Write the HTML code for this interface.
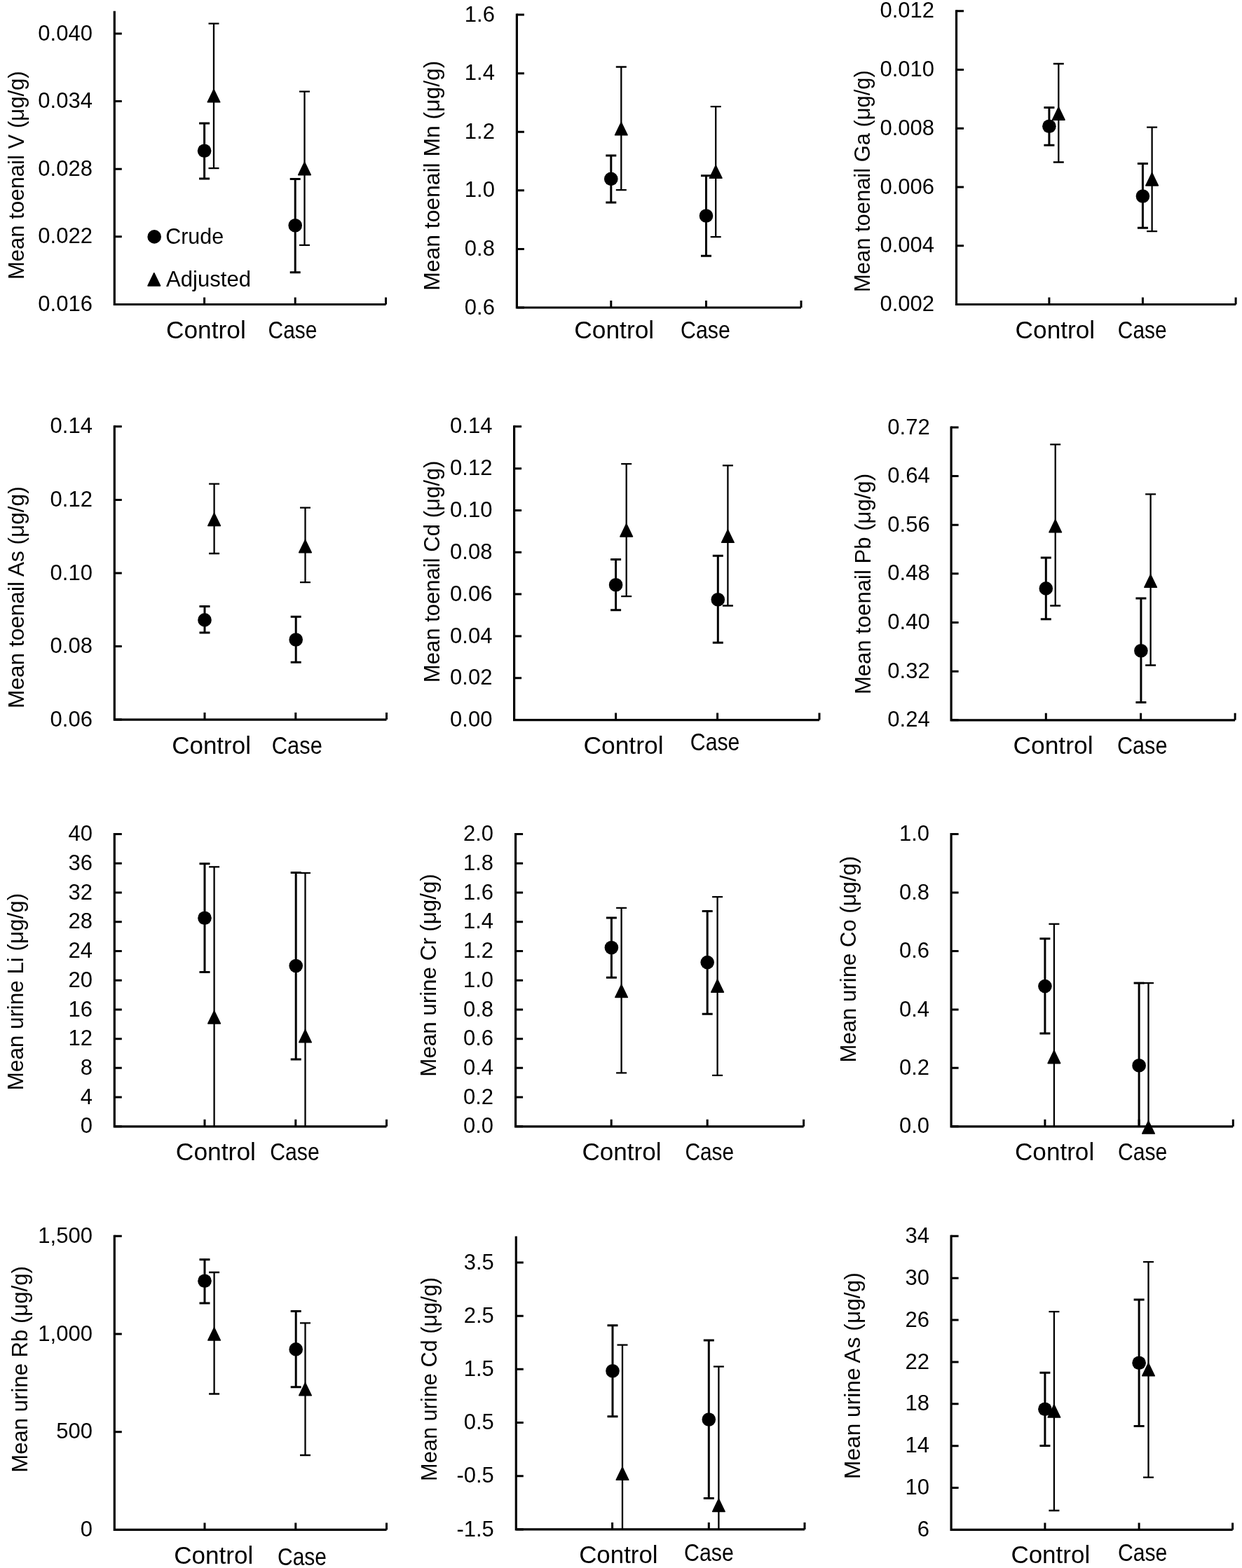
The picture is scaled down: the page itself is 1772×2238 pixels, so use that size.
<!DOCTYPE html>
<html><head><meta charset="utf-8"><title>Figure</title>
<style>
html,body{margin:0;padding:0;background:#fff;}
svg{display:block;}
text{font-family:'Liberation Sans', sans-serif;fill:#000;}
.yl{font-size:31.0px;text-anchor:end;}
.cl{font-size:34.4px;}
.ti{font-size:31.5px;text-anchor:middle;}
.lg{font-size:31.5px;}
.ax{fill:none;stroke:#000;stroke-width:3.2;stroke-linecap:butt;stroke-linejoin:miter;}
.tk{fill:none;stroke:#000;stroke-width:3.0;}
.ec{fill:none;stroke:#000;stroke-width:3.0;}
.ea{fill:none;stroke:#000;stroke-width:2.3;}
.tr{fill:#000;stroke:#000;stroke-width:1.5;stroke-linejoin:round;}
</style></head>
<body>
<svg width="1772" height="2238" viewBox="0 0 1772 2238">
<rect width="1772" height="2238" fill="#fff"/>
<path d="M163.3 15.8V434.5H550.5" class="ax"/>
<path d="M163.3 48h10.5M163.3 144.6h10.5M163.3 241.2h10.5M163.3 337.8h10.5M163.3 434.4h10.5M291.6 434.5v-10M421.2 434.5v-10M550.5 434.5v-10" class="tk"/>
<text transform="translate(131.9 57.6) scale(1 1)" class="yl">0.040</text>
<text transform="translate(131.9 154.2) scale(1 1)" class="yl">0.034</text>
<text transform="translate(131.9 250.8) scale(1 1)" class="yl">0.028</text>
<text transform="translate(131.9 347.4) scale(1 1)" class="yl">0.022</text>
<text transform="translate(131.9 444) scale(1 1)" class="yl">0.016</text>
<path d="M291.6 175.9V254.9" class="ec"/>
<path d="M284.1 175.9h15M284.1 254.9h15" class="ec"/>
<circle cx="291.6" cy="215.2" r="9.8"/>
<path d="M305 33.6V240.1" class="ea"/>
<path d="M297.5 33.6h15M297.5 240.1h15" class="ea"/>
<path d="M305 127.6L313.8 145.8H296.2Z" class="tr"/>
<path d="M421.2 255.4V388.8" class="ec"/>
<path d="M413.7 255.4h15M413.7 388.8h15" class="ec"/>
<circle cx="421.2" cy="321.7" r="9.8"/>
<path d="M434.5 130.7V349.8" class="ea"/>
<path d="M427 130.7h15M427 349.8h15" class="ea"/>
<path d="M434.5 231.45L443.3 249.65H425.7Z" class="tr"/>
<text x="237" y="483" class="cl" textLength="113.8" lengthAdjust="spacingAndGlyphs">Control</text>
<text x="382.6" y="483" class="cl" textLength="69.8" lengthAdjust="spacingAndGlyphs">Case</text>
<text transform="translate(33.6 250.2) rotate(-90)" class="ti" textLength="297.8" lengthAdjust="spacingAndGlyphs">Mean toenail V (μg/g)</text>
<circle cx="220.2" cy="337.9" r="9.8"/>
<text x="236.2" y="348.0" class="lg" textLength="83" lengthAdjust="spacingAndGlyphs">Crude</text>
<path d="M219.8 389.7L228.6 407.9H211Z" class="tr"/>
<text x="237.0" y="408.6" class="lg" textLength="121" lengthAdjust="spacingAndGlyphs">Adjusted</text>
<path d="M737.4 19.6V439H1143" class="ax"/>
<path d="M737.4 21.1h10.5M737.4 104.68h10.5M737.4 188.26h10.5M737.4 271.84h10.5M737.4 355.42h10.5M737.4 439h10.5M871.8 439v-10M1007.5 439v-10M1143 439v-10" class="tk"/>
<text transform="translate(705.9 30.7) scale(1 1)" class="yl">1.6</text>
<text transform="translate(705.9 114.28) scale(1 1)" class="yl">1.4</text>
<text transform="translate(705.9 197.86) scale(1 1)" class="yl">1.2</text>
<text transform="translate(705.9 281.44) scale(1 1)" class="yl">1.0</text>
<text transform="translate(705.9 365.02) scale(1 1)" class="yl">0.8</text>
<text transform="translate(705.9 448.6) scale(1 1)" class="yl">0.6</text>
<path d="M871.8 222V289" class="ec"/>
<path d="M864.3 222h15M864.3 289h15" class="ec"/>
<circle cx="871.8" cy="255.4" r="9.8"/>
<path d="M886.3 95.5V271.2" class="ea"/>
<path d="M878.8 95.5h15M878.8 271.2h15" class="ea"/>
<path d="M886.3 174.55L895.1 192.75H877.5Z" class="tr"/>
<path d="M1007.5 250.8V365.3" class="ec"/>
<path d="M1000 250.8h15M1000 365.3h15" class="ec"/>
<circle cx="1007.5" cy="308" r="9.8"/>
<path d="M1021.2 152.1V338.2" class="ea"/>
<path d="M1013.7 152.1h15M1013.7 338.2h15" class="ea"/>
<path d="M1021.2 236L1030 254.2H1012.4Z" class="tr"/>
<text x="819.2" y="483" class="cl" textLength="114" lengthAdjust="spacingAndGlyphs">Control</text>
<text x="971" y="483" class="cl" textLength="70.8" lengthAdjust="spacingAndGlyphs">Case</text>
<text transform="translate(626.8 250.65) rotate(-90)" class="ti" textLength="328.1" lengthAdjust="spacingAndGlyphs">Mean toenail Mn (μg/g)</text>
<path d="M1364.5 14.3V434.5H1763.1" class="ax"/>
<path d="M1364.5 15.8h10.5M1364.5 99.54h10.5M1364.5 183.28h10.5M1364.5 267.02h10.5M1364.5 350.76h10.5M1364.5 434.5h10.5M1496.9 434.5v-10M1630.4 434.5v-10M1763.1 434.5v-10" class="tk"/>
<text transform="translate(1333 25.4) scale(1 1)" class="yl">0.012</text>
<text transform="translate(1333 109.14) scale(1 1)" class="yl">0.010</text>
<text transform="translate(1333 192.88) scale(1 1)" class="yl">0.008</text>
<text transform="translate(1333 276.62) scale(1 1)" class="yl">0.006</text>
<text transform="translate(1333 360.36) scale(1 1)" class="yl">0.004</text>
<text transform="translate(1333 444.1) scale(1 1)" class="yl">0.002</text>
<path d="M1496.9 153.5V207.2" class="ec"/>
<path d="M1489.4 153.5h15M1489.4 207.2h15" class="ec"/>
<circle cx="1496.9" cy="180.2" r="9.8"/>
<path d="M1510.3 91V231.5" class="ea"/>
<path d="M1502.8 91h15M1502.8 231.5h15" class="ea"/>
<path d="M1510.3 152.95L1519.1 171.15H1501.5Z" class="tr"/>
<path d="M1630.4 233.6V325.3" class="ec"/>
<path d="M1622.9 233.6h15M1622.9 325.3h15" class="ec"/>
<circle cx="1630.4" cy="280" r="9.8"/>
<path d="M1643.6 181.6V330.2" class="ea"/>
<path d="M1636.1 181.6h15M1636.1 330.2h15" class="ea"/>
<path d="M1643.6 246.7L1652.4 264.9H1634.8Z" class="tr"/>
<text x="1448.6" y="483" class="cl" textLength="113.6" lengthAdjust="spacingAndGlyphs">Control</text>
<text x="1594.8" y="483" class="cl" textLength="69.8" lengthAdjust="spacingAndGlyphs">Case</text>
<text transform="translate(1241.4 258.55) rotate(-90)" class="ti" textLength="316.7" lengthAdjust="spacingAndGlyphs">Mean toenail Ga (μg/g)</text>
<path d="M163.3 607.3V1027.1H551.5" class="ax"/>
<path d="M163.3 608.8h10.5M163.3 713.38h10.5M163.3 817.95h10.5M163.3 922.52h10.5M163.3 1027.1h10.5M292 1027.1v-10M421.8 1027.1v-10M551.5 1027.1v-10" class="tk"/>
<text transform="translate(131.9 618.4) scale(1 1)" class="yl">0.14</text>
<text transform="translate(131.9 722.98) scale(1 1)" class="yl">0.12</text>
<text transform="translate(131.9 827.55) scale(1 1)" class="yl">0.10</text>
<text transform="translate(131.9 932.12) scale(1 1)" class="yl">0.08</text>
<text transform="translate(131.9 1036.7) scale(1 1)" class="yl">0.06</text>
<path d="M292 865.6V903.1" class="ec"/>
<path d="M284.5 865.6h15M284.5 903.1h15" class="ec"/>
<circle cx="292" cy="884.9" r="9.8"/>
<path d="M305.6 690.6V790" class="ea"/>
<path d="M298.1 690.6h15M298.1 790h15" class="ea"/>
<path d="M305.6 732.25L314.4 750.45H296.8Z" class="tr"/>
<path d="M422.2 880.3V945.3" class="ec"/>
<path d="M414.7 880.3h15M414.7 945.3h15" class="ec"/>
<circle cx="422.2" cy="913" r="9.8"/>
<path d="M435.5 724.7V831.1" class="ea"/>
<path d="M428 724.7h15M428 831.1h15" class="ea"/>
<path d="M435.5 770.5L444.3 788.7H426.7Z" class="tr"/>
<text x="245.2" y="1075.6" class="cl" textLength="112.8" lengthAdjust="spacingAndGlyphs">Control</text>
<text x="387.8" y="1075.6" class="cl" textLength="72" lengthAdjust="spacingAndGlyphs">Case</text>
<text transform="translate(33.9 852.6) rotate(-90)" class="ti" textLength="316.6" lengthAdjust="spacingAndGlyphs">Mean toenail As (μg/g)</text>
<path d="M733.6 607.3V1027.6H1169" class="ax"/>
<path d="M733.6 608.8h10.5M733.6 668.63h10.5M733.6 728.46h10.5M733.6 788.29h10.5M733.6 848.11h10.5M733.6 907.94h10.5M733.6 967.77h10.5M733.6 1027.6h10.5M878.6 1027.6v-10M1023.6 1027.6v-10M1169 1027.6v-10" class="tk"/>
<text transform="translate(702.4 618.4) scale(1 1)" class="yl">0.14</text>
<text transform="translate(702.4 678.23) scale(1 1)" class="yl">0.12</text>
<text transform="translate(702.4 738.06) scale(1 1)" class="yl">0.10</text>
<text transform="translate(702.4 797.89) scale(1 1)" class="yl">0.08</text>
<text transform="translate(702.4 857.71) scale(1 1)" class="yl">0.06</text>
<text transform="translate(702.4 917.54) scale(1 1)" class="yl">0.04</text>
<text transform="translate(702.4 977.37) scale(1 1)" class="yl">0.02</text>
<text transform="translate(702.4 1037.2) scale(1 1)" class="yl">0.00</text>
<path d="M878.6 798.5V870.8" class="ec"/>
<path d="M871.1 798.5h15M871.1 870.8h15" class="ec"/>
<circle cx="878.6" cy="834.7" r="9.8"/>
<path d="M893.7 662.2V851.2" class="ea"/>
<path d="M886.2 662.2h15M886.2 851.2h15" class="ea"/>
<path d="M893.7 747.7L902.5 765.9H884.9Z" class="tr"/>
<path d="M1024.3 793.2V917.2" class="ec"/>
<path d="M1016.8 793.2h15M1016.8 917.2h15" class="ec"/>
<circle cx="1024.3" cy="855.7" r="9.8"/>
<path d="M1038.4 664.3V864.5" class="ea"/>
<path d="M1030.9 664.3h15M1030.9 864.5h15" class="ea"/>
<path d="M1038.4 756.15L1047.2 774.35H1029.6Z" class="tr"/>
<text x="832.4" y="1075.6" class="cl" textLength="114.2" lengthAdjust="spacingAndGlyphs">Control</text>
<text x="984.8" y="1071.4" class="cl" textLength="70.6" lengthAdjust="spacingAndGlyphs">Case</text>
<text transform="translate(626.6 815.9) rotate(-90)" class="ti" textLength="316.6" lengthAdjust="spacingAndGlyphs">Mean toenail Cd (μg/g)</text>
<path d="M1357.1 608.4V1027.8H1762.1" class="ax"/>
<path d="M1357.1 609.9h10.5M1357.1 679.55h10.5M1357.1 749.2h10.5M1357.1 818.85h10.5M1357.1 888.5h10.5M1357.1 958.15h10.5M1357.1 1027.8h10.5M1492.3 1027.8v-10M1627.6 1027.8v-10M1762.1 1027.8v-10" class="tk"/>
<text transform="translate(1326.7 619.5) scale(1 1)" class="yl">0.72</text>
<text transform="translate(1326.7 689.15) scale(1 1)" class="yl">0.64</text>
<text transform="translate(1326.7 758.8) scale(1 1)" class="yl">0.56</text>
<text transform="translate(1326.7 828.45) scale(1 1)" class="yl">0.48</text>
<text transform="translate(1326.7 898.1) scale(1 1)" class="yl">0.40</text>
<text transform="translate(1326.7 967.75) scale(1 1)" class="yl">0.32</text>
<text transform="translate(1326.7 1037.4) scale(1 1)" class="yl">0.24</text>
<path d="M1492.3 796V883.8" class="ec"/>
<path d="M1484.8 796h15M1484.8 883.8h15" class="ec"/>
<circle cx="1492.3" cy="839.9" r="9.8"/>
<path d="M1505.7 634.4V864.5" class="ea"/>
<path d="M1498.2 634.4h15M1498.2 864.5h15" class="ea"/>
<path d="M1505.7 741.55L1514.5 759.75H1496.9Z" class="tr"/>
<path d="M1627.9 854V1002.5" class="ec"/>
<path d="M1620.4 854h15M1620.4 1002.5h15" class="ec"/>
<circle cx="1627.9" cy="928.8" r="9.8"/>
<path d="M1641.6 705.4V949.5" class="ea"/>
<path d="M1634.1 705.4h15M1634.1 949.5h15" class="ea"/>
<path d="M1641.6 820.05L1650.4 838.25H1632.8Z" class="tr"/>
<text x="1445.4" y="1075.6" class="cl" textLength="114.2" lengthAdjust="spacingAndGlyphs">Control</text>
<text x="1594" y="1075.6" class="cl" textLength="71.4" lengthAdjust="spacingAndGlyphs">Case</text>
<text transform="translate(1241.9 833.55) rotate(-90)" class="ti" textLength="315.1" lengthAdjust="spacingAndGlyphs">Mean toenail Pb (μg/g)</text>
<path d="M163.3 1189.1V1607.8H551.5" class="ax"/>
<path d="M163.3 1190.6h10.5M163.3 1232.32h10.5M163.3 1274.04h10.5M163.3 1315.76h10.5M163.3 1357.48h10.5M163.3 1399.2h10.5M163.3 1440.92h10.5M163.3 1482.64h10.5M163.3 1524.36h10.5M163.3 1566.08h10.5M163.3 1607.8h10.5M292 1607.8v-10M421.8 1607.8v-10M551.5 1607.8v-10" class="tk"/>
<text transform="translate(131.9 1200.2) scale(1 1)" class="yl">40</text>
<text transform="translate(131.9 1241.92) scale(1 1)" class="yl">36</text>
<text transform="translate(131.9 1283.64) scale(1 1)" class="yl">32</text>
<text transform="translate(131.9 1325.36) scale(1 1)" class="yl">28</text>
<text transform="translate(131.9 1367.08) scale(1 1)" class="yl">24</text>
<text transform="translate(131.9 1408.8) scale(1 1)" class="yl">20</text>
<text transform="translate(131.9 1450.52) scale(1 1)" class="yl">16</text>
<text transform="translate(131.9 1492.24) scale(1 1)" class="yl">12</text>
<text transform="translate(131.9 1533.96) scale(1 1)" class="yl">8</text>
<text transform="translate(131.9 1575.68) scale(1 1)" class="yl">4</text>
<text transform="translate(131.9 1617.4) scale(1 1)" class="yl">0</text>
<path d="M292 1232.7V1387.6" class="ec"/>
<path d="M284.5 1232.7h15M284.5 1387.6h15" class="ec"/>
<circle cx="292" cy="1310.3" r="9.8"/>
<path d="M305.6 1237.3V1607.8" class="ea"/>
<path d="M298.1 1237.3h15" class="ea"/>
<path d="M305.6 1442.75L314.4 1460.95H296.8Z" class="tr"/>
<path d="M422.2 1245.4V1512" class="ec"/>
<path d="M414.7 1245.4h15M414.7 1512h15" class="ec"/>
<circle cx="422.2" cy="1378.5" r="9.8"/>
<path d="M435.5 1246V1607.8" class="ea"/>
<path d="M428 1246h15" class="ea"/>
<path d="M435.5 1469.65L444.3 1487.85H426.7Z" class="tr"/>
<text x="250.8" y="1655.6" class="cl" textLength="114.2" lengthAdjust="spacingAndGlyphs">Control</text>
<text x="385.2" y="1655.6" class="cl" textLength="70.6" lengthAdjust="spacingAndGlyphs">Case</text>
<text transform="translate(33.2 1415.55) rotate(-90)" class="ti" textLength="281.3" lengthAdjust="spacingAndGlyphs">Mean urine Li (μg/g)</text>
<path d="M735.6 1189.1V1607.8H1146.6" class="ax"/>
<path d="M735.6 1190.6h10.5M735.6 1232.32h10.5M735.6 1274.04h10.5M735.6 1315.76h10.5M735.6 1357.48h10.5M735.6 1399.2h10.5M735.6 1440.92h10.5M735.6 1482.64h10.5M735.6 1524.36h10.5M735.6 1566.08h10.5M735.6 1607.8h10.5M872.2 1607.8v-10M1009.2 1607.8v-10M1146.6 1607.8v-10" class="tk"/>
<text transform="translate(704.1 1200.2) scale(1 1)" class="yl">2.0</text>
<text transform="translate(704.1 1241.92) scale(1 1)" class="yl">1.8</text>
<text transform="translate(704.1 1283.64) scale(1 1)" class="yl">1.6</text>
<text transform="translate(704.1 1325.36) scale(1 1)" class="yl">1.4</text>
<text transform="translate(704.1 1367.08) scale(1 1)" class="yl">1.2</text>
<text transform="translate(704.1 1408.8) scale(1 1)" class="yl">1.0</text>
<text transform="translate(704.1 1450.52) scale(1 1)" class="yl">0.8</text>
<text transform="translate(704.1 1492.24) scale(1 1)" class="yl">0.6</text>
<text transform="translate(704.1 1533.96) scale(1 1)" class="yl">0.4</text>
<text transform="translate(704.1 1575.68) scale(1 1)" class="yl">0.2</text>
<text transform="translate(704.1 1617.4) scale(1 1)" class="yl">0.0</text>
<path d="M872.4 1310V1395.3" class="ec"/>
<path d="M864.9 1310h15M864.9 1395.3h15" class="ec"/>
<circle cx="872.4" cy="1352.5" r="9.8"/>
<path d="M886.6 1295.9V1531.3" class="ea"/>
<path d="M879.1 1295.9h15M879.1 1531.3h15" class="ea"/>
<path d="M886.6 1405.35L895.4 1423.55H877.8Z" class="tr"/>
<path d="M1009.2 1300.5V1447.3" class="ec"/>
<path d="M1001.7 1300.5h15M1001.7 1447.3h15" class="ec"/>
<circle cx="1009.2" cy="1373.6" r="9.8"/>
<path d="M1023.6 1280.1V1534.8" class="ea"/>
<path d="M1016.1 1280.1h15M1016.1 1534.8h15" class="ea"/>
<path d="M1023.6 1397.95L1032.4 1416.15H1014.8Z" class="tr"/>
<text x="830.4" y="1655.6" class="cl" textLength="113.2" lengthAdjust="spacingAndGlyphs">Control</text>
<text x="977.4" y="1655.6" class="cl" textLength="69.8" lengthAdjust="spacingAndGlyphs">Case</text>
<text transform="translate(622.4 1391.95) rotate(-90)" class="ti" textLength="289.5" lengthAdjust="spacingAndGlyphs">Mean urine Cr (μg/g)</text>
<path d="M1357.1 1189.1V1607.8H1759.3" class="ax"/>
<path d="M1357.1 1190.6h10.5M1357.1 1274.04h10.5M1357.1 1357.48h10.5M1357.1 1440.92h10.5M1357.1 1524.36h10.5M1357.1 1607.8h10.5M1490.9 1607.8v-10M1625.1 1607.8v-10M1759.3 1607.8v-10" class="tk"/>
<text transform="translate(1326 1200.2) scale(1 1)" class="yl">1.0</text>
<text transform="translate(1326 1283.64) scale(1 1)" class="yl">0.8</text>
<text transform="translate(1326 1367.08) scale(1 1)" class="yl">0.6</text>
<text transform="translate(1326 1450.52) scale(1 1)" class="yl">0.4</text>
<text transform="translate(1326 1533.96) scale(1 1)" class="yl">0.2</text>
<text transform="translate(1326 1617.4) scale(1 1)" class="yl">0.0</text>
<path d="M1490.9 1339.8V1475.1" class="ec"/>
<path d="M1483.4 1339.8h15M1483.4 1475.1h15" class="ec"/>
<circle cx="1490.9" cy="1407.6" r="9.8"/>
<path d="M1503.9 1318.8V1607.8" class="ea"/>
<path d="M1496.4 1318.8h15" class="ea"/>
<path d="M1503.9 1499.45L1512.7 1517.65H1495.1Z" class="tr"/>
<path d="M1625.1 1403.1V1607.8" class="ec"/>
<path d="M1617.6 1403.1h15" class="ec"/>
<circle cx="1625.1" cy="1520.7" r="9.8"/>
<path d="M1638.5 1403.1V1607.8" class="ea"/>
<path d="M1631 1403.1h15" class="ea"/>
<path d="M1638.5 1599.9L1647.3 1618.1H1629.7Z" class="tr"/>
<text x="1448" y="1655.6" class="cl" textLength="113.2" lengthAdjust="spacingAndGlyphs">Control</text>
<text x="1595" y="1655.6" class="cl" textLength="70.4" lengthAdjust="spacingAndGlyphs">Case</text>
<text transform="translate(1220.6 1369.1) rotate(-90)" class="ti" textLength="294.6" lengthAdjust="spacingAndGlyphs">Mean urine Co (μg/g)</text>
<path d="M163.3 1762.8V2183.4H551.5" class="ax"/>
<path d="M163.3 1764.3h10.5M163.3 1904h10.5M163.3 2043.7h10.5M163.3 2183.4h10.5M292 2183.4v-10M421.8 2183.4v-10M551.5 2183.4v-10" class="tk"/>
<text transform="translate(131.9 1773.9) scale(1 1)" class="yl">1,500</text>
<text transform="translate(131.9 1913.6) scale(1 1)" class="yl">1,000</text>
<text transform="translate(131.9 2053.3) scale(1 1)" class="yl">500</text>
<text transform="translate(131.9 2193) scale(1 1)" class="yl">0</text>
<path d="M292 1797.7V1859.9" class="ec"/>
<path d="M284.5 1797.7h15M284.5 1859.9h15" class="ec"/>
<circle cx="292" cy="1828.3" r="9.8"/>
<path d="M305.6 1816V1989.5" class="ea"/>
<path d="M298.1 1816h15M298.1 1989.5h15" class="ea"/>
<path d="M305.6 1894.8L314.4 1913H296.8Z" class="tr"/>
<path d="M422.2 1871.5V1979.7" class="ec"/>
<path d="M414.7 1871.5h15M414.7 1979.7h15" class="ec"/>
<circle cx="422.2" cy="1925.9" r="9.8"/>
<path d="M435.5 1888.3V2077" class="ea"/>
<path d="M428 1888.3h15M428 2077h15" class="ea"/>
<path d="M435.5 1973.65L444.3 1991.85H426.7Z" class="tr"/>
<text x="248.2" y="2232" class="cl" textLength="113" lengthAdjust="spacingAndGlyphs">Control</text>
<text x="396" y="2234" class="cl" textLength="70" lengthAdjust="spacingAndGlyphs">Case</text>
<text transform="translate(39.4 1954.4) rotate(-90)" class="ti" textLength="294.6" lengthAdjust="spacingAndGlyphs">Mean urine Rb (μg/g)</text>
<path d="M736.3 1764.6V2182.9H1148" class="ax"/>
<path d="M736.3 1802h10.5M736.3 1878.18h10.5M736.3 1954.36h10.5M736.3 2030.54h10.5M736.3 2106.72h10.5M736.3 2182.9h10.5M873.6 2182.9v-10M1011.3 2182.9v-10M1148 2182.9v-10" class="tk"/>
<text transform="translate(704.8 1811.6) scale(1 1)" class="yl">3.5</text>
<text transform="translate(704.8 1887.78) scale(1 1)" class="yl">2.5</text>
<text transform="translate(704.8 1963.96) scale(1 1)" class="yl">1.5</text>
<text transform="translate(704.8 2040.14) scale(1 1)" class="yl">0.5</text>
<text transform="translate(704.8 2116.32) scale(1 1)" class="yl">-0.5</text>
<text transform="translate(704.8 2192.5) scale(1 1)" class="yl">-1.5</text>
<path d="M874 1891.8V2021.8" class="ec"/>
<path d="M866.5 1891.8h15M866.5 2021.8h15" class="ec"/>
<circle cx="874" cy="1956.8" r="9.8"/>
<path d="M888 1919.6V2182.9" class="ea"/>
<path d="M880.5 1919.6h15" class="ea"/>
<path d="M888 2094.15L896.8 2112.35H879.2Z" class="tr"/>
<path d="M1011.3 1912.9V2138.4" class="ec"/>
<path d="M1003.8 1912.9h15M1003.8 2138.4h15" class="ec"/>
<circle cx="1011.3" cy="2026" r="9.8"/>
<path d="M1025.4 1950.5V2182.9" class="ea"/>
<path d="M1017.9 1950.5h15" class="ea"/>
<path d="M1025.4 2139.3L1034.2 2157.5H1016.6Z" class="tr"/>
<text x="826.2" y="2231" class="cl" textLength="112.4" lengthAdjust="spacingAndGlyphs">Control</text>
<text x="976" y="2228" class="cl" textLength="70.8" lengthAdjust="spacingAndGlyphs">Case</text>
<text transform="translate(623.1 1968.4) rotate(-90)" class="ti" textLength="291" lengthAdjust="spacingAndGlyphs">Mean urine Cd (μg/g)</text>
<path d="M1357.1 1762.8V2183.4H1758.6" class="ax"/>
<path d="M1357.1 1764.3h10.5M1357.1 1824.17h10.5M1357.1 1884.04h10.5M1357.1 1943.91h10.5M1357.1 2003.79h10.5M1357.1 2063.66h10.5M1357.1 2123.53h10.5M1357.1 2183.4h10.5M1490.9 2183.4v-10M1625.1 2183.4v-10M1758.6 2183.4v-10" class="tk"/>
<text transform="translate(1326 1773.9) scale(1 1)" class="yl">34</text>
<text transform="translate(1326 1833.77) scale(1 1)" class="yl">30</text>
<text transform="translate(1326 1893.64) scale(1 1)" class="yl">26</text>
<text transform="translate(1326 1953.51) scale(1 1)" class="yl">22</text>
<text transform="translate(1326 2013.39) scale(1 1)" class="yl">18</text>
<text transform="translate(1326 2073.26) scale(1 1)" class="yl">14</text>
<text transform="translate(1326 2133.13) scale(1 1)" class="yl">10</text>
<text transform="translate(1326 2193) scale(1 1)" class="yl">6</text>
<path d="M1490.9 1959.3V2063.6" class="ec"/>
<path d="M1483.4 1959.3h15M1483.4 2063.6h15" class="ec"/>
<circle cx="1490.9" cy="2011.3" r="9.8"/>
<path d="M1503.9 1872.2V2156" class="ea"/>
<path d="M1496.4 1872.2h15M1496.4 2156h15" class="ea"/>
<path d="M1503.9 2004.9L1512.7 2023.1H1495.1Z" class="tr"/>
<path d="M1625.1 1855V2035.5" class="ec"/>
<path d="M1617.6 1855h15M1617.6 2035.5h15" class="ec"/>
<circle cx="1625.1" cy="1945.2" r="9.8"/>
<path d="M1638.5 1801.2V2108.6" class="ea"/>
<path d="M1631 1801.2h15M1631 2108.6h15" class="ea"/>
<path d="M1638.5 1945.55L1647.3 1963.75H1629.7Z" class="tr"/>
<text x="1442.4" y="2231" class="cl" textLength="112.8" lengthAdjust="spacingAndGlyphs">Control</text>
<text x="1595" y="2228" class="cl" textLength="70.4" lengthAdjust="spacingAndGlyphs">Case</text>
<text transform="translate(1227.2 1963.6) rotate(-90)" class="ti" textLength="294.6" lengthAdjust="spacingAndGlyphs">Mean urine As (μg/g)</text>
</svg>
</body></html>
